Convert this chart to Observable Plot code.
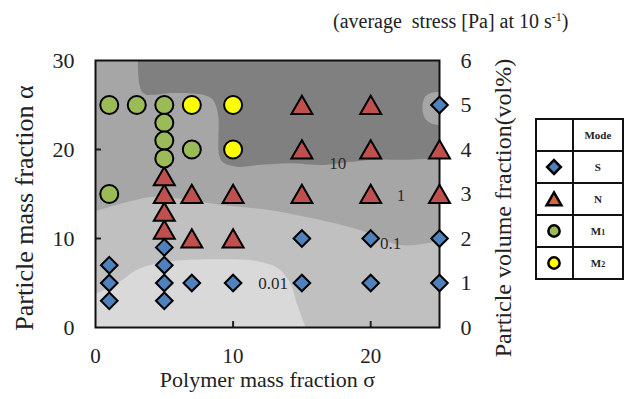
<!DOCTYPE html>
<html><head><meta charset="utf-8">
<script src="https://cdn.jsdelivr.net/npm/d3@7"></script>
<script src="https://cdn.jsdelivr.net/npm/@observablehq/plot@0.6"></script>
<style>
html,body{margin:0;padding:0;background:#fff;width:624px;height:399px;overflow:hidden;}
#wrap{position:relative;width:624px;height:399px;font-family:"Liberation Serif","Times New Roman",serif;color:#222;}
#chart{position:absolute;left:0;top:0;}
#chart svg, #chart svg text{font-family:"Liberation Serif","Times New Roman",serif !important;}
#caption{position:absolute;left:333px;top:9px;font-size:20px;line-height:24px;white-space:nowrap;}
#caption sup{font-size:12px;vertical-align:7px;line-height:0;}
#legend{position:absolute;left:535px;top:118px;border-collapse:collapse;font-weight:bold;font-size:11px;}
#legend td{border:2px solid #111;padding:0;text-align:center;vertical-align:middle;height:30px;}
#legend td.sym{width:36px;}
#legend td.lab{width:50px;}
#legend small{font-size:8px;}
</style></head>
<body><div id="wrap"><div id="chart"></div><div id="caption">(average&nbsp; stress [Pa] at 10 s<sup>-1</sup>)</div><table id="legend"></table></div>
<script>
// ---- axes ----
const xDomain = [0, 25];
const yDomain = [0, 30];
const xTicks = [0, 10, 20];
const yTicks = [0, 10, 20, 30];
const volTicks = [0, 1, 2, 3, 4, 5, 6];          // right axis: vol% (alpha / 5)

// ---- measured points by mode ----
const sigmaS  = [1, 1, 1, 5, 5, 5, 5, 7, 10, 15, 15, 20, 20, 25, 25, 25];
const alphaS  = [3, 5, 7, 3, 5, 7, 9, 5, 5, 5, 10, 5, 10, 5, 10, 25];
const sigmaN  = [5, 5, 5, 5, 7, 7, 10, 10, 15, 15, 15, 20, 20, 20, 25, 25];
const alphaN  = [11, 13, 15, 17, 10, 15, 10, 15, 15, 20, 25, 15, 20, 25, 15, 20];
const sigmaM1 = [1, 1, 3, 5, 5, 5, 5, 7];
const alphaM1 = [25, 15, 25, 25, 23, 21, 19, 20];
const sigmaM2 = [7, 10, 10];
const alphaM2 = [25, 25, 20];

// ---- stress contour boundaries (sigma, alpha) ----
const c001Sigma = [0, 1.6, 3.27, 5.67, 9.3, 11.8, 13.3, 14.2, 14.7, 15.3];
const c001Alpha = [3.7, 4.9, 6.6, 7.4, 7.6, 7.4, 6.6, 4.9, 2.5, 0];
const c01Sigma  = [0, 4.0, 5.67, 9.3, 12.9, 14.9, 17.3, 19.8, 22.2, 24.1, 25];
const c01Alpha  = [13.0, 14.6, 14.5, 13.7, 13.1, 12.5, 11.7, 10.6, 9.2, 9.4, 9.8];
const c10Sigma  = [3.13, 3.49, 5.67, 7.85, 8.58, 8.95, 9.02, 9.31, 10.3, 11.8, 14.2, 16.6, 18.3, 20.2, 22.7, 25];
const c10Alpha  = [30, 26.3, 26.3, 26.1, 25.5, 23.8, 19.3, 18.5, 18.0, 18.2, 18.4, 18.2, 18.5, 18.8, 18.8, 19.0];
const bumpSigma = [23.8, 24.0, 24.4, 25];
const bumpLow   = [24.3, 23.4, 22.9, 22.7];
const bumpHigh  = [25.0, 25.9, 26.3, 26.4];

// ---- contour labels ----
const cLabels = ["10", "1", "0.1", "0.01"];
const cLabelSigma = [17.6, 22.2, 21.45, 12.9];
const cLabelAlpha = [18.4, 14.8, 9.4, 4.9];

// ---- legend ----
const modes = ["S", "N", "M1", "M2"];
const modeColors = {S: "#4f81bd", N: "#c0504d", M1: "#9bbb59", M2: "#ffff00"};
const legendColors = {S: "#4f81bd", N: "#d9643a", M1: "#9bbb59", M2: "#ffff00"};
const modeSymbols = {S: "diamond2", N: "triangle", M1: "circle", M2: "circle"};

const serif = "'Liberation Serif', 'Times New Roman', serif";
const zip = (xs, ys) => xs.map((x, i) => ({s: x, a: ys[i]}));
const pts = (xs, ys, mode) => xs.map((x, i) => ({s: x, a: ys[i], mode}));
const ptsS = pts(sigmaS, alphaS, "S");
const ptsN = pts(sigmaN, alphaN, "N");
const ptsM1 = pts(sigmaM1, alphaM1, "M1");
const ptsM2 = pts(sigmaM2, alphaM2, "M2");
const c001 = zip(c001Sigma, c001Alpha);
const c01 = zip(c01Sigma, c01Alpha);
const c10 = zip(c10Sigma, c10Alpha);
const bump = bumpSigma.map((s, i) => ({s, lo: bumpLow[i], hi: bumpHigh[i]}));
const labels = cLabels.map((t, i) => ({t, s: cLabelSigma[i], a: cLabelAlpha[i]}));

const chart = Plot.plot({
  width: 624, height: 399,
  marginLeft: 95, marginRight: 185, marginTop: 60, marginBottom: 72,
  style: {"font-family": serif, "font-size": "22px", color: "#222", background: "transparent", overflow: "visible"},
  x: {domain: xDomain},
  y: {domain: yDomain},
  marks: [
    Plot.frame({fill: "#c0c0c0"}),
    Plot.areaY(c001, {x: "s", y1: yDomain[0], y2: "a", fill: "#d9d9d9", curve: "catmull-rom"}),
    Plot.areaY(c01, {x: "s", y1: "a", y2: yDomain[1], fill: "#a6a6a6", curve: "catmull-rom"}),
    Plot.areaY(c10, {x: "s", y1: "a", y2: yDomain[1], fill: "#808080", curve: "catmull-rom"}),
    Plot.areaY(bump, {x: "s", y1: "lo", y2: "hi", fill: "#a6a6a6", curve: "catmull-rom"}),
    Plot.text(labels, {x: "s", y: "a", text: "t", fontSize: 17, fill: "#2a2a2a", fontFamily: serif}),
    Plot.axisX({ticks: xTicks, tickSize: 0, tickPadding: 21, label: null, fontSize: 21, fontFamily: serif}),
    Plot.axisX({ticks: [10, 20], tickSize: -6, tickFormat: () => "", label: null, strokeWidth: 2}),
    Plot.axisY({ticks: yTicks, tickSize: 0, tickPadding: 21, label: null, fontSize: 22, fontFamily: serif}),
    Plot.axisY({ticks: [10, 20], tickSize: -6, tickFormat: () => "", label: null, strokeWidth: 2}),
    Plot.axisY({anchor: "right", ticks: volTicks.map(v => v * yDomain[1] / 6), tickFormat: d => String(Math.round(d * 6 / yDomain[1])), tickSize: 0, tickPadding: 21, label: null, fontSize: 22, fontFamily: serif}),
    Plot.frame({stroke: "#111", strokeWidth: 2}),
    Plot.dot(ptsS, {x: "s", y: "a", symbol: "diamond2", r: 7.5, fill: modeColors.S, stroke: "#000", strokeWidth: 2}),
    Plot.dot(ptsN, {x: "s", y: "a", symbol: "triangle", r: 7.8, dy: 3, fill: modeColors.N, stroke: "#000", strokeWidth: 2}),
    Plot.dot(ptsM1, {x: "s", y: "a", symbol: "circle", r: 9, fill: modeColors.M1, stroke: "#000", strokeWidth: 2}),
    Plot.dot(ptsM2, {x: "s", y: "a", symbol: "circle", r: 9, fill: modeColors.M2, stroke: "#000", strokeWidth: 2}),
    Plot.text(["Polymer mass fraction σ"], {frameAnchor: "bottom", textAnchor: "middle", text: d => d, dy: 59, fontSize: 22, fontFamily: serif}),
    Plot.text(["Particle mass fraction α"], {frameAnchor: "left", textAnchor: "middle", text: d => d, rotate: -90, dx: -71, dy: 14, fontSize: 26, fontFamily: serif}),
    Plot.text(["Particle volume fraction(vol%)"], {frameAnchor: "right", textAnchor: "middle", text: d => d, rotate: -90, dx: 64, dy: 14, fontSize: 24, fontFamily: serif})
  ]
});
document.getElementById("chart").append(chart);

// legend table
const table = d3.select("#legend");
const head = table.append("tr");
head.append("td").attr("class", "sym");
head.append("td").attr("class", "lab").text("Mode");
const symMap = {diamond2: d3.symbolDiamond2, triangle: d3.symbolTriangle, circle: d3.symbolCircle};
const symSize = {diamond2: 120, triangle: 95, circle: 100};
modes.forEach(m => {
  const tr = table.append("tr");
  const svg = tr.append("td").attr("class", "sym").append("svg").attr("width", 22).attr("height", 22).style("display", "block").style("margin", "auto");
  const sym = modeSymbols[m];
  svg.append("path")
    .attr("d", d3.symbol(symMap[sym], symSize[sym])())
    .attr("transform", `translate(11,${sym === "triangle" ? 13 : 11})`)
    .attr("fill", legendColors[m]).attr("stroke", "#000").attr("stroke-width", 2.5);
  const lab = tr.append("td").attr("class", "lab");
  const mm = m.match(/^([A-Z])(\d?)$/);
  lab.append("span").text(mm[1]);
  if (mm[2]) lab.append("small").text(mm[2]);
});
</script>
</body></html>
